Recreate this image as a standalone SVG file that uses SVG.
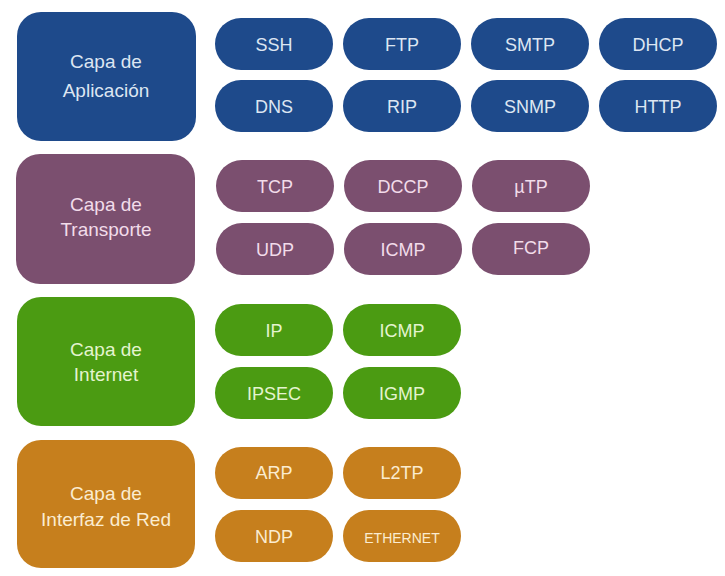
<svg xmlns="http://www.w3.org/2000/svg" width="725" height="576" viewBox="0 0 725 576">
<style>
text{font-family:"Liberation Sans",Arial,sans-serif;text-anchor:middle;dominant-baseline:central}
.L{font-size:19px}.p{font-size:18px}
.b{fill:#1e4a8b}.bt{fill:#dde6f2}
.m{fill:#7b4f6f}.mt{fill:#f2dcea}
.g{fill:#4b9b12}.gt{fill:#e4f4cf}
.o{fill:#c67f1d}.ot{fill:#fbecd0}
</style>
<rect width="725" height="576" fill="#fff"/>
<g id="app">
<rect class="b" x="17" y="12" width="179" height="129" rx="24"/>
<text class="L bt" x="106" y="61">Capa de</text><text class="L bt" x="106" y="90">Aplicación</text>
</g>
<g id="trans">
<rect class="m" x="16" y="154" width="179" height="130" rx="24"/>
<text class="L mt" x="106" y="204">Capa de</text><text class="L mt" x="106" y="229">Transporte</text>
</g>
<g id="inet">
<rect class="g" x="17" y="297" width="178" height="129" rx="24"/>
<text class="L gt" x="106" y="349">Capa de</text><text class="L gt" x="106" y="374">Internet</text>
</g>
<g id="link">
<rect class="o" x="17" y="440" width="178" height="128" rx="24"/>
<text class="L ot" x="106" y="493">Capa de</text><text class="L ot" x="106" y="519">Interfaz de Red</text>
</g>
<g id="pills">
<g class="b">
<rect x="215" y="18" width="118" height="52" rx="26"/><rect x="343" y="18" width="118" height="52" rx="26"/><rect x="471" y="18" width="118" height="52" rx="26"/><rect x="599" y="18" width="118" height="52" rx="26"/>
<rect x="215" y="80" width="118" height="52" rx="26"/><rect x="343" y="80" width="118" height="52" rx="26"/><rect x="471" y="80" width="118" height="52" rx="26"/><rect x="599" y="80" width="118" height="52" rx="26"/>
</g>
<g class="p bt">
<text x="274" y="45">SSH</text><text x="402" y="45">FTP</text><text x="530" y="45">SMTP</text><text x="658" y="45">DHCP</text>
<text x="274" y="107">DNS</text><text x="402" y="107">RIP</text><text x="530" y="107">SNMP</text><text x="658" y="107">HTTP</text>
</g>
<g class="m">
<rect x="216" y="160" width="118" height="52" rx="26"/><rect x="344" y="160" width="118" height="52" rx="26"/><rect x="472" y="160" width="118" height="52" rx="26"/>
<rect x="216" y="223" width="118" height="52" rx="26"/><rect x="344" y="223" width="118" height="52" rx="26"/><rect x="472" y="223" width="118" height="52" rx="26"/>
</g>
<g class="p mt">
<text x="275" y="187">TCP</text><text x="403" y="187">DCCP</text><text x="531" y="187">µTP</text>
<text x="275" y="250">UDP</text><text x="403" y="250">ICMP</text><text x="531" y="248">FCP</text>
</g>
<g class="g">
<rect x="215" y="304" width="118" height="52" rx="26"/><rect x="343" y="304" width="118" height="52" rx="26"/>
<rect x="215" y="367" width="118" height="52" rx="26"/><rect x="343" y="367" width="118" height="52" rx="26"/>
</g>
<g class="p gt">
<text x="274" y="331">IP</text><text x="402" y="331">ICMP</text>
<text x="274" y="394">IPSEC</text><text x="402" y="394">IGMP</text>
</g>
<g class="o">
<rect x="215" y="447" width="118" height="52" rx="26"/><rect x="343" y="447" width="118" height="52" rx="26"/>
<rect x="215" y="510" width="118" height="52" rx="26"/><rect x="343" y="510" width="118" height="52" rx="26"/>
</g>
<g class="ot">
<text class="p" x="274" y="473">ARP</text><text class="p" x="402" y="473">L2TP</text>
<text class="p" x="274" y="537">NDP</text><text x="402" y="538" font-size="14">ETHERNET</text>
</g>
</g>
</svg>
